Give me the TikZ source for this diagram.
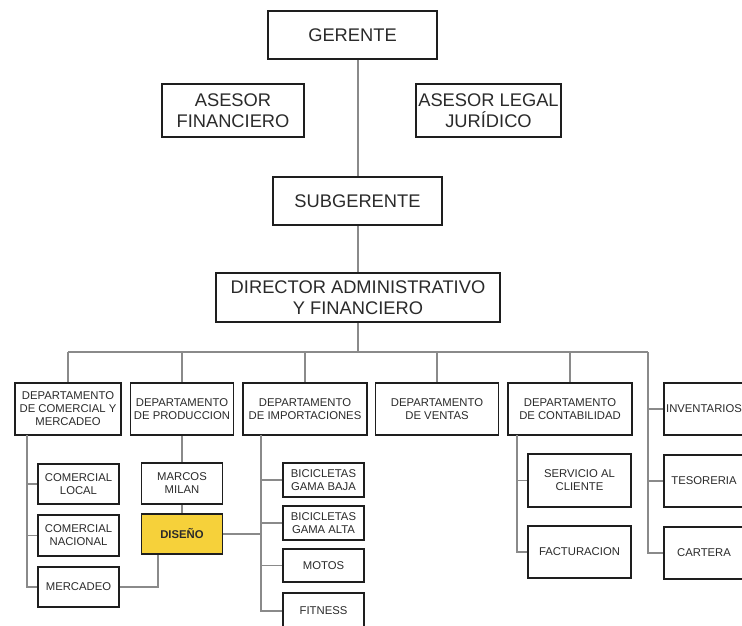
\documentclass[tikz,border=0pt]{standalone}
\usepackage{fontspec}
\setmainfont{Liberation Sans}
\usetikzlibrary{calc}
\definecolor{conn}{HTML}{8A8A8A}
\definecolor{bord}{HTML}{1E1E1E}
\definecolor{txt}{HTML}{2A2A2A}
\definecolor{yel}{HTML}{F6D13A}
\tikzset{
  bx/.style args={#1x#2}{draw=bord, line width=1.9pt, fill=white, inner sep=0pt,
    minimum width=#1pt, minimum height=#2pt, align=center, text=txt},
  big/.style={font=\fontsize{18.3}{20.5}\selectfont},
  small/.style={font=\fontsize{11.3}{13}\selectfont},
  ln/.style={draw=conn, line width=1.2pt}
}
\begin{document}
\begin{tikzpicture}[x=1pt,y=-1pt]
\clip (0,0) rectangle (742,625);
\fill[white] (0,0) rectangle (742,625);
% coordinates
\coordinate (bus) at (0,352);
\coordinate (busR) at (648,352);
\coordinate (v1) at (27,435);
\coordinate (v3) at (261,435);
\coordinate (v5) at (517,435);
% connectors (drawn first)
\coordinate (gS) at (358,59);
\coordinate (sN) at (358,177);
\coordinate (sS) at (358,225);
\coordinate (dN) at (358,273);
\coordinate (dS) at (358,322);
\draw[ln] (gS) -- (sN);
\draw[ln] (sS) -- (dN);
\draw[ln] (dS) -- (dS |- bus);
\draw[ln] (68,352) -- (busR);
% nodes
\node[bx=169x48, big] (gerente) at (352.5,35) {GERENTE};
\node[bx=142x53, big] (asfin) at (233,110.5) {ASESOR\\FINANCIERO};
\node[bx=145x53, big] (aslegal) at (488.5,110.5) {ASESOR LEGAL\\JURÍDICO};
\node[bx=169x48, big] (subg) at (357.5,201) {SUBGERENTE};
\node[bx=284x49, big] (dir) at (358,297.5) {DIRECTOR ADMINISTRATIVO\\Y FINANCIERO};

\node[bx=106x52, small] (d1) at (68,409) {DEPARTAMENTO\\DE COMERCIAL Y\\MERCADEO};
\node[bx=103x52, small] (d2) at (182,409) {DEPARTAMENTO\\DE PRODUCCION};
\node[bx=124x52, small] (d3) at (305,409) {DEPARTAMENTO\\DE IMPORTACIONES};
\node[bx=123x52, small] (d4) at (437,409) {DEPARTAMENTO\\DE VENTAS};
\node[bx=124x52, small] (d5) at (570,409) {DEPARTAMENTO\\DE CONTABILIDAD};
\node[bx=80x52, small] (inv) at (704,409) {INVENTARIOS};
\node[bx=80x52, small] (tes) at (704,481) {TESORERIA};
\node[bx=80x52, small] (cart) at (704,553) {CARTERA};

\node[bx=81x40, small] (cl) at (78.5,484) {COMERCIAL\\LOCAL};
\node[bx=81x41, small] (cn) at (78.5,535.5) {COMERCIAL\\NACIONAL};
\node[bx=81x40, small] (merc) at (78.5,587) {MERCADEO};

\node[bx=81x41, small] (marcos) at (182,483.5) {MARCOS\\MILAN};
\node[bx=81x40, small, fill=yel, font=\fontsize{11.3}{13}\selectfont\bfseries] (diseno) at (182,534) {DISEÑO};

\node[bx=81x34, small] (bb) at (323.5,480) {BICICLETAS\\GAMA BAJA};
\node[bx=81x34, small] (ba) at (323.5,523) {BICICLETAS\\GAMA ALTA};
\node[bx=81x33, small] (motos) at (323.5,565.5) {MOTOS};
\node[bx=81x36, small] (fit) at (323.5,611) {FITNESS};

\node[bx=103x53, small] (serv) at (579.5,480.5) {SERVICIO AL\\CLIENTE};
\node[bx=103x52, small] (fact) at (579.5,552) {FACTURACION};

% bus to departments
\foreach \n in {d1,d2,d3,d4,d5} \draw[ln] (\n.north) -- (\n.north |- bus);
\draw[ln] (busR) |- (cart.west);
\draw[ln] (busR |- inv.west) -- (inv.west);
\draw[ln] (busR |- tes.west) -- (tes.west);
% comercial branch
\draw[ln] (v1) |- (merc.west);
\draw[ln] (v1 |- cl.west) -- (cl.west);
\draw[ln] (v1 |- cn.west) -- (cn.west);
% produccion branch
\draw[ln] (d2.south) -- (marcos.north);
\draw[ln] (marcos.south) -- (diseno.north);
\draw[ln] ($(diseno.south)+(-24,0)$) |- (merc.east);
\draw[ln] (diseno.east) -- (diseno.east -| v3);
% importaciones branch
\draw[ln] (v3) |- (fit.west);
\draw[ln] (v3 |- bb.west) -- (bb.west);
\draw[ln] (v3 |- ba.west) -- (ba.west);
\draw[ln] (v3 |- motos.west) -- (motos.west);
% contabilidad branch
\draw[ln] (v5) |- (fact.west);
\draw[ln] (v5 |- serv.west) -- (serv.west);
\end{tikzpicture}
\end{document}
